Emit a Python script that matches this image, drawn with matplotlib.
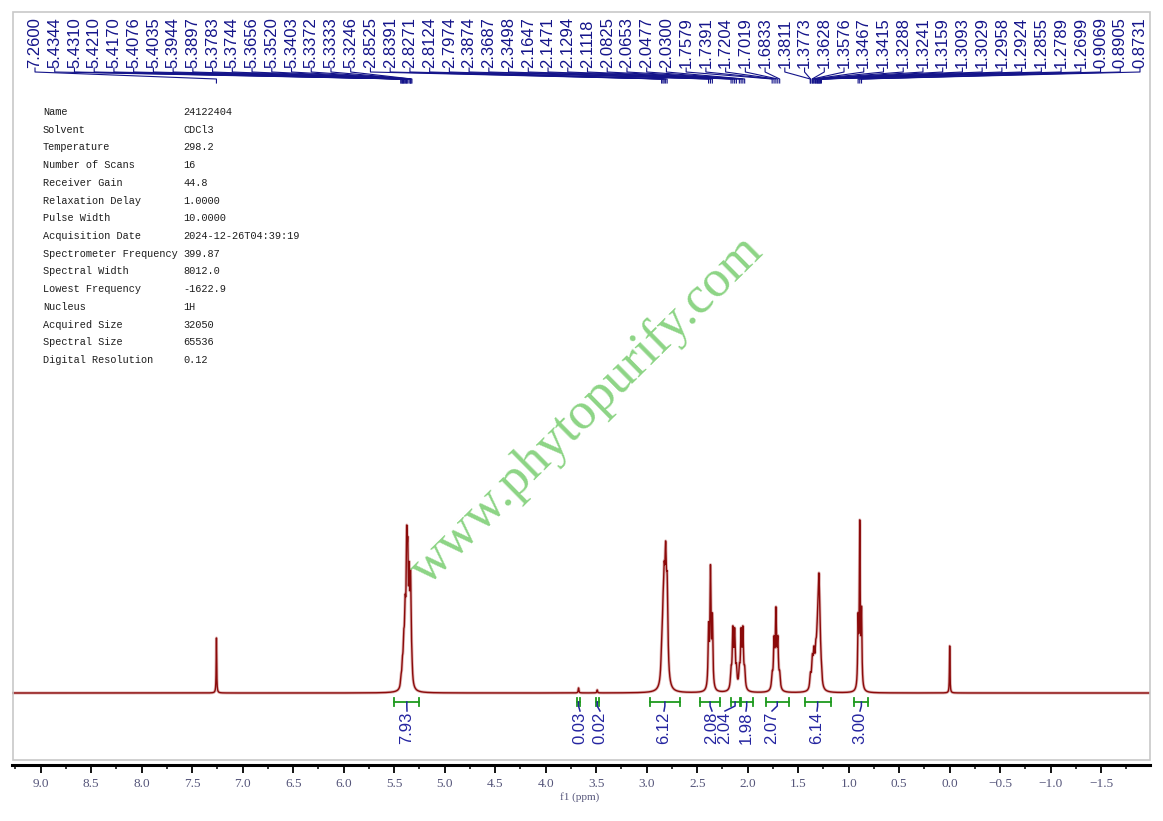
import numpy as np
import matplotlib
matplotlib.use("Agg")
import matplotlib.pyplot as plt
from matplotlib.patches import Rectangle
from matplotlib.ticker import MultipleLocator, FuncFormatter

# ---------------- data ----------------
peak_labels = [7.2600, 5.4344, 5.4310, 5.4210, 5.4170, 5.4076, 5.4035, 5.3944,
               5.3897, 5.3783, 5.3744, 5.3656, 5.3520, 5.3403, 5.3372, 5.3333,
               5.3246, 2.8525, 2.8391, 2.8271, 2.8124, 2.7974, 2.3874, 2.3687,
               2.3498, 2.1647, 2.1471, 2.1294, 2.1118, 2.0825, 2.0653, 2.0477,
               2.0300, 1.7579, 1.7391, 1.7204, 1.7019, 1.6833, 1.3811, 1.3773,
               1.3628, 1.3576, 1.3467, 1.3415, 1.3288, 1.3241, 1.3159, 1.3093,
               1.3029, 1.2958, 1.2924, 1.2855, 1.2789, 1.2699, 0.9069, 0.8905,
               0.8731]

# multiplets: line shifts (ppm), relative intensities
solvent_shifts = [7.26]
solvent_rel = [1.0]
olefin_shifts = [5.4344, 5.4310, 5.4210, 5.4170, 5.4076, 5.4035, 5.3944, 5.3897,
                 5.3783, 5.3744, 5.3656, 5.3520, 5.3403, 5.3372, 5.3333, 5.3246]
olefin_rel = [0.04, 0.05, 0.10, 0.12, 0.20, 0.22, 0.35, 0.40,
              0.70, 0.72, 1.00, 0.90, 0.50, 0.45, 0.22, 0.12]
impurity_shifts = [3.675, 3.49]
impurity_rel = [1.0, 0.6]
bisallyl_shifts = [2.8525, 2.8391, 2.8271, 2.8124, 2.7974]
bisallyl_rel = [0.20, 0.45, 0.75, 1.00, 0.80]
alpha_shifts = [2.3874, 2.3687, 2.3498]
alpha_rel = [0.50, 1.00, 0.58]
allyl1_shifts = [2.1647, 2.1471, 2.1294, 2.1118]
allyl1_rel = [0.30, 1.00, 0.95, 0.30]
allyl2_shifts = [2.0825, 2.0653, 2.0477, 2.0300]
allyl2_rel = [0.30, 0.95, 1.00, 0.30]
beta_shifts = [1.7579, 1.7391, 1.7204, 1.7019, 1.6833]
beta_rel = [0.18, 0.60, 1.00, 0.60, 0.18]
chain_shifts = [1.3811, 1.3773, 1.3628, 1.3576, 1.3467, 1.3415, 1.3288, 1.3241,
                1.3159, 1.3093, 1.3029, 1.2958, 1.2924, 1.2855, 1.2789, 1.2699]
chain_rel = [0.14, 0.15, 0.30, 0.32, 0.36, 0.37, 0.32, 0.34,
             0.37, 0.50, 0.67, 1.00, 0.83, 0.50, 0.33, 0.20]
methyl_shifts = [0.9069, 0.8905, 0.8731]
methyl_rel = [0.40, 1.00, 0.45]
tms_shifts = [0.0]
tms_rel = [1.0]

# read-off tallest height of each multiplet (px above baseline) and line half widths (ppm)
multiplet_tops = [55, 168, 5, 152, 128, 66, 66, 86, 120, 173, 47]
multiplet_widths = [0.003, 0.006, 0.004, 0.009, 0.006, 0.007, 0.007, 0.007, 0.007, 0.005, 0.003]

integral_values = ["7.93", "0.03", "0.02", "6.12", "2.08", "2.04", "1.98", "2.07", "6.14", "3.00"]
integral_start = [5.50, 3.690, 3.505, 2.97, 2.475, 2.17, 2.07, 1.82, 1.435, 0.944]
integral_end = [5.25, 3.660, 3.475, 2.67, 2.270, 2.08, 1.95, 1.595, 1.180, 0.805]
integral_label_px = [407, 580, 600, 664, 712, 725, 746, 772, 817, 860]

param_names = ["Name", "Solvent", "Temperature", "Number of Scans", "Receiver Gain",
               "Relaxation Delay", "Pulse Width", "Acquisition Date",
               "Spectrometer Frequency", "Spectral Width", "Lowest Frequency",
               "Nucleus", "Acquired Size", "Spectral Size", "Digital Resolution"]
param_values = ["24122404", "CDCl3", "298.2", "16", "44.8", "1.0000", "10.0000",
                "2024-12-26T04:39:19", "399.87", "8012.0", "-1622.9", "1H",
                "32050", "65536", "0.12"]

# ---------------- layout helpers ----------------
W, H = 1163, 821
X0PX, PXPPM, BASE = 949.7, 101.0, 693.0
LEFT, RIGHT = 12, 1150


def px_x(p):
    return (X0PX - p) / PXPPM


def px_y(p):
    return BASE - p


fig = plt.figure(figsize=(W / 100, H / 100), dpi=100)
fig.patch.set_facecolor("white")

# light frame
fig.patches.append(Rectangle((13 / W, 1 - 760 / H), (RIGHT - 13) / W, (760 - 12) / H,
                             transform=fig.transFigure, fill=False,
                             edgecolor="#c8c8c8", lw=1.2))

ax = fig.add_axes([LEFT / W, 1 - 765 / H, (RIGHT - LEFT) / W, (765 - 12) / H])
ax.set_xlim(px_x(LEFT), px_x(RIGHT))
ax.set_ylim(px_y(765), px_y(12))
ax.patch.set_alpha(0)
for s in ["top", "left", "right"]:
    ax.spines[s].set_visible(False)
ax.spines["bottom"].set_linewidth(2.2)
ax.spines["bottom"].set_color("black")
ax.set_yticks([])
ax.xaxis.set_major_locator(MultipleLocator(0.5))
ax.xaxis.set_minor_locator(MultipleLocator(0.25))
ax.xaxis.set_major_formatter(FuncFormatter(lambda v, p: f"{v:.1f}".replace("-", "\u2212")))
ax.tick_params(axis="x", which="major", direction="out", length=6, width=1.3,
               pad=3, labelsize=9.5, labelcolor="#55557a", color="black")
ax.tick_params(axis="x", which="minor", direction="out", length=3, width=1.1, color="black")
for lab in ax.get_xticklabels():
    lab.set_family("Liberation Serif")
fig.text(580 / W, 1 - 797 / H, "f1 (ppm)", ha="center", va="center",
         fontsize=8, family="Liberation Serif", color="#55557a")

# ---------------- spectrum ----------------
multiplets = [(solvent_shifts, solvent_rel), (olefin_shifts, olefin_rel),
              (impurity_shifts, impurity_rel), (bisallyl_shifts, bisallyl_rel),
              (alpha_shifts, alpha_rel), (allyl1_shifts, allyl1_rel),
              (allyl2_shifts, allyl2_rel), (beta_shifts, beta_rel),
              (chain_shifts, chain_rel), (methyl_shifts, methyl_rel),
              (tms_shifts, tms_rel)]
xs = np.linspace(px_x(LEFT), px_x(RIGHT), 90000)
ys = np.zeros_like(xs)
for (shifts, rel), top, hw in zip(multiplets, multiplet_tops, multiplet_widths):
    sub = np.zeros_like(xs)
    for s, r in zip(shifts, rel):
        sub += r * hw ** 2 / ((xs - s) ** 2 + hw ** 2)
    ys += sub * top / sub.max()
ax.plot(xs, ys, color="#e0b8b8", lw=2.2, solid_joinstyle="round")
ax.plot(xs, ys, color="#8b0a0a", lw=1.0, solid_joinstyle="round")

# ---------------- peak labels ----------------
navy = "#14148a"
n = len(peak_labels)
for i, v in enumerate(peak_labels):
    lx = px_x(35 + i * (1140 - 35) / (n - 1))
    ax.text(lx, px_y(68), f"{v:.4f}", rotation=90, ha="center", va="bottom",
            fontsize=12, family="Liberation Sans", color=navy, clip_on=False)
    ax.plot([lx, lx, v, v], [px_y(68), px_y(72), px_y(79), px_y(83)],
            color=navy, lw=0.8, clip_on=False)

# ---------------- integrals ----------------
green = "#1e9a1e"
blue = "#2424a0"
yb = px_y(702)
for val, s, e, lpx in zip(integral_values, integral_start, integral_end, integral_label_px):
    ax.plot([s, e], [yb, yb], color=green, lw=1.3)
    ax.plot([s, s], [yb - 4, yb + 4], color=green, lw=1.3)
    ax.plot([e, e], [yb - 4, yb + 4], color=green, lw=1.3)
    c = 0.5 * (s + e)
    lx = px_x(lpx)
    ax.plot([c, c, lx], [yb, px_y(706), px_y(711)], color=blue, lw=1.1)
    ax.text(lx, px_y(712), val, rotation=90, ha="center", va="top",
            fontsize=12, family="Liberation Sans", color=blue)

# ---------------- parameter table ----------------
for k, (nm, vl) in enumerate(zip(param_names, param_values)):
    yy = 1 - (112 + k * (360 - 112) / 14) / H
    fig.text(43 / W, yy, nm, ha="left", va="center", fontsize=7.4,
             family="Liberation Mono", color="#1e1e1e")
    fig.text(183 / W, yy, vl, ha="left", va="center", fontsize=7.4,
             family="Liberation Mono", color="#1e1e1e")

# ---------------- watermark ----------------
fig.text(587 / W, 1 - 410 / H, "www.phytopurify.com", rotation=44.6,
         rotation_mode="anchor", ha="center", va="center", fontsize=38,
         family="Liberation Serif", color="#86d27e", alpha=0.95)

fig.savefig("out.png", dpi=100)
